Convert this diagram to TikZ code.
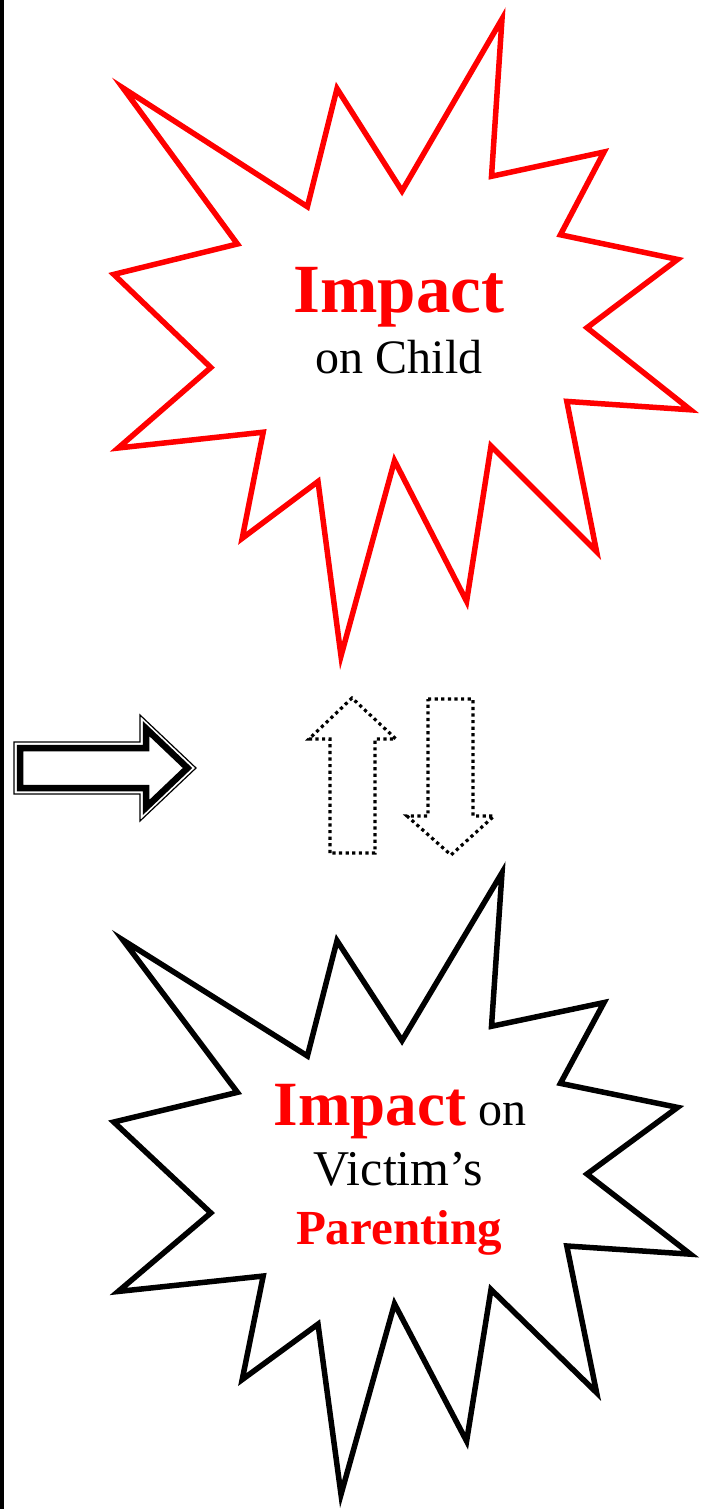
\documentclass[tikz,border=0pt]{standalone}
\usepackage{fontspec}
\setmainfont{Liberation Serif}
\definecolor{impred}{RGB}{255,0,0}
\begin{document}
\begin{tikzpicture}[x=1pt,y=-1pt,
  starline/.style={line width=5.5pt, miter limit=25, line join=miter},
  txt/.style={inner sep=0pt, anchor=base},
  dotarrow/.style={line width=3.2pt, dash pattern=on 3.2pt off 3.4pt, line cap=butt, line join=miter},
  bigbold/.style={font=\bfseries\fontsize{69}{69}\selectfont, text=impred},
  plain/.style={font=\fontsize{48}{48}\selectfont, text=black}]
\useasboundingbox (0,0) rectangle (709,1509);
\fill[black] (0,0) rectangle (4,1509);
\def\starpath{(123,88) -- (307.4,206.7) -- (337,88.6) -- (402,191) -- (502,19) -- (491.5,176.3) -- (604,152) -- (560.4,234.8) -- (677.6,259.4) -- (587,327.7) -- (690.4,409.8) -- (566.8,401.4) -- (596.6,551.7) -- (491,446) -- (466.6,601.3) -- (394.5,460.7) -- (341,656) -- (318,481.5) -- (242.2,538.3) -- (263.2,432.2) -- (118.2,448) -- (210.8,367.5) -- (113.8,274.4) -- (237.4,244) -- cycle}
% top star
\draw[starline, draw=impred] \starpath;
% bottom star
\begin{scope}[yshift=-854.2pt, yscale=0.976]
\draw[starline, draw=black] \starpath;
\end{scope}
% texts
\node[txt, bigbold] (t1) at (399,312) {Impact};
\node[txt, plain] (t2) at (399,373) {on Child};
\node[txt, plain] (b1) at (400,1125) {{\fontsize{63}{63}\selectfont\bfseries\color{impred}Impact} on};
\node[txt, plain, font=\fontsize{50}{50}\selectfont] (b2) at (398.5,1185) {Victim’s};
\node[txt, plain, font=\bfseries\fontsize{49}{49}\selectfont, text=impred] (b3) at (399,1244) {Parenting};
% right block arrow
\draw[line width=1.2pt] (14,742) -- (140,742) -- (140,715) -- (196,768) -- (140,821) -- (140,794) -- (14,794) -- cycle;
\draw[line width=6.5pt] (20,748) -- (146,748) -- (146,728.5) -- (187.5,768) -- (146,807.5) -- (146,788) -- (20,788) -- cycle;
% dotted arrows
\draw[dotarrow] (330,853) -- (330,739) -- (309,739) -- (352,698) -- (396,739) -- (375,739) -- (375,853) -- cycle;
\draw[dotarrow] (428,699) -- (473,699) -- (473,816) -- (494,816) -- (451,855) -- (407,816) -- (428,816) -- cycle;
\end{tikzpicture}
\end{document}
